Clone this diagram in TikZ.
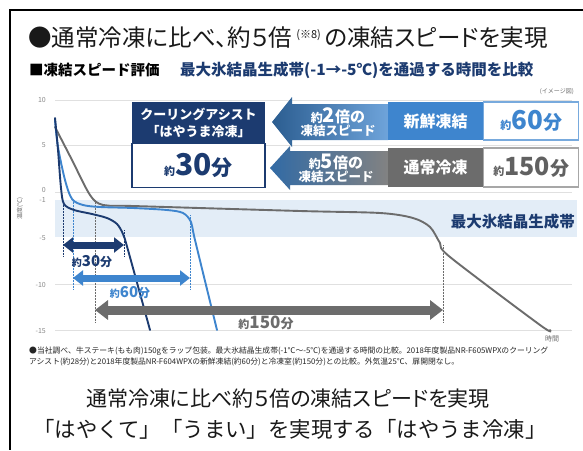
\documentclass[tikz,border=0pt]{standalone}
\usepackage{fontspec}
\setmainfont{Noto Sans CJK JP}
\newfontfamily\jp[RawFeature=+palt]{Noto Sans CJK JP}
\usetikzlibrary{arrows.meta,positioning}
\definecolor{navy}{HTML}{1C3B70}
\definecolor{fblue}{HTML}{3E85CE}
\definecolor{fgray}{HTML}{6C6C6C}
\definecolor{bandc}{HTML}{E3EDF7}
\definecolor{gridc}{HTML}{E0E0E0}
\newcommand\fs[2]{{\fontsize{#1}{#1}\selectfont #2}}
\newcommand\yakumin[4]{\fs{#1}{約}\fs{#2}{#4}\fs{#3}{分}}
\begin{document}
\begin{tikzpicture}[x=1pt,y=-1pt,
    tick/.style={anchor=east,text=fgray!80,font=\fontsize{7}{8}\selectfont,inner sep=1pt},
    gridline/.style={gridc,line width=0.8pt},
    guide/.style={densely dotted,line width=0.5pt},
    tcurve/.style={line width=1.9pt,line cap=round},
    span/.style={line width=7pt,{Triangle[width=15pt,length=10pt]}-{Triangle[width=15pt,length=10pt]}},
    widespan/.style={line width=9pt,{Triangle[width=19pt,length=13pt]}-{Triangle[width=19pt,length=13pt]}},
    headbox/.style={minimum width=95pt,minimum height=38pt,text=white,font=\bfseries\fontsize{16}{16}\selectfont,inner sep=0},
    timebox/.style={fill=white,line width=1.2pt,minimum width=95pt,minimum height=38pt,font=\bfseries,inner sep=0},
    speedlbl/.style={text=white,font=\bfseries,align=center,inner sep=0}]
\useasboundingbox (0,0) rectangle (583,450);
\fill[white] (0,0) rectangle (583,450);
% frame
\draw[line width=1.6pt] (583,10) -- (10,10) -- (10,450);

\node[anchor=west,inner sep=0,text=black!90] (title) at (28,38)
  {\jp\fontsize{23.5}{23.5}\selectfont ●通常冷凍に比べ、約５倍\,\raisebox{8pt}{\fontsize{11}{11}\selectfont (※8)}\,の凍結スピードを実現};
\node[anchor=west,inner sep=0,font=\bfseries\fontsize{14.5}{14.5}\selectfont] (subA) at (29,70) {■凍結スピード評価};
\node[anchor=west,inner sep=0,text=navy,font=\bfseries\fontsize{15.5}{15.5}\selectfont] (subB) at (180,70) {最大氷結晶生成帯(-1→-5℃)を通過する時間を比較};
\node[anchor=east,inner sep=0,text=fgray,font=\fontsize{6}{6}\selectfont] (imgNote) at (574,92) {(イメージ図)};

% chart
\fill[bandc] (55,200) rectangle (577,237);
\foreach \t/\yy in {10/100,5/145,0/192,-10/284,-15/330}
  \draw[gridline] (55,\yy) -- (572,\yy);
\foreach \t/\yy in {10/100,5/145,0/190,-1/200,-5/238,-10/285,-15/331}
  \node[tick] (tk\t) at (47,\yy) {\t};
\node[rotate=90,text=fgray,font=\fontsize{6}{6}\selectfont,inner sep=0] (yTitle) at (20,208) {温度(℃)};
\node[anchor=east,inner sep=0,text=navy,font=\bfseries\fontsize{15.5}{15.5}\selectfont] (bandLbl) at (575,222) {最大氷結晶生成帯};
\node[text=fgray,font=\fontsize{7}{7}\selectfont,inner sep=0] (timeLbl) at (552,339) {時間};

\draw[guide,navy] (63,203) -- (63,256) (124,230) -- (124,256);
\draw[guide,fblue] (73,200) -- (73,289) (190,215) -- (190,289);
\draw[guide,fgray] (95,200) -- (95,322) (443,245) -- (443,322);

\draw[tcurve,fgray] plot[smooth,tension=0.5] coordinates {(55,127) (72,160) (90,195) (103,205) (133,206) (300,211) (380,213) (413,218) (430,227) (440,243) (450,257) (540,325) (550,330)};
\draw[tcurve,fblue] plot[smooth,tension=0.5] coordinates {(55,120) (58,147) (65,180) (72,199) (83,205) (100,207) (133,208) (167,210) (183,213) (191,222) (195,240) (217,330)};
\draw[tcurve,navy] plot[smooth,tension=0.5] coordinates {(55,118) (58,150) (61,188) (64,204) (74,210) (92,214) (107,218) (117,224) (123,234) (128,250) (150,330)};

\coordinate (s30a) at (63,245);  \coordinate (s30b) at (124,245);
\coordinate (s60a) at (73,278);  \coordinate (s60b) at (190,278);
\coordinate (s150a) at (95,310); \coordinate (s150b) at (443,310);
\draw[span,navy] (s30a) -- (s30b);
\draw[span,fblue] (s60a) -- (s60b);
\draw[widespan,fgray] (s150a) -- (s150b);
\node[text=navy,font=\bfseries,inner sep=1pt] (lbl30) at (92,262) {\yakumin{10}{15}{12}{30}};
\node[text=fblue,font=\bfseries,inner sep=1pt] (lbl60) at (130,293) {\yakumin{10}{15}{12}{60}};
\node[text=fgray,font=\bfseries,inner sep=1pt] (lbl150) at (266,323) {\yakumin{11}{17}{13}{150}};

% comparison boxes
\node[fill=navy,minimum width=133pt,minimum height=41pt,text=white,align=center,
  font=\bfseries\fontsize{13}{17}\selectfont,inner sep=0] (assistHead) at (198.5,122.5) {クーリングアシスト\\「はやうま冷凍」};
\node[timebox,draw=navy,minimum width=133pt,minimum height=44pt,text=navy,below=0pt of assistHead] (assistTime) {\yakumin{11}{30}{21}{30}};

\shade[left color=fblue!70!black,right color=fblue!75!white]
  (388,104) -- (292,104) -- (292,97) -- (272,122) -- (292,147) -- (292,140) -- (388,140) -- cycle;
\shade[left color=fblue!80!black,middle color=fblue!35!white,right color=fgray!85]
  (388,151) -- (290,151) -- (290,146) -- (270,168) -- (290,190) -- (290,185) -- (388,185) -- cycle;
\node[speedlbl,anchor=south] (speed2) at (338,124) {\fs{12}{約}\fs{20}{2}\fs{15}{倍の}};
\node[speedlbl,anchor=north] (speed2b) at (338,125) {\fs{12.5}{凍結スピード}};
\node[speedlbl,anchor=south] (speed5) at (336,170) {\fs{12}{約}\fs{20}{5}\fs{15}{倍の}};
\node[speedlbl,anchor=north] (speed5b) at (336,171) {\fs{12.5}{凍結スピード}};

\node[headbox,fill=fblue] (freshHead) at (435.5,121) {新鮮凍結};
\node[timebox,draw=fblue!70,text=fblue,right=0pt of freshHead] (freshTime) {\yakumin{11}{26}{19}{60}};
\node[headbox,fill=fgray,minimum height=39pt] (normalHead) at (435.5,167.5) {通常冷凍};
\node[timebox,draw=fgray!60,text=fgray!90!black,minimum height=39pt,right=0pt of normalHead] (normalTime) {\yakumin{11}{25}{19}{150}};

% notes
\node[anchor=north west,align=left,inner sep=0,text=black!85,font=\fontsize{7.8}{10.5}\selectfont] (note) at (29,347)
  {●当社調べ、牛ステーキ(もも肉)150gをラップ包装。最大氷結晶生成帯(-1℃～-5℃)を通過する時間の比較。2018年度製品NR-F605WPXのクーリング\\
   アシスト(約28分)と2018年度製品NR-F604WPXの新鮮凍結(約60分)と冷凍室(約150分)との比較。外気温25℃、扉開閉なし。};
\node[inner sep=0,text=black!90,font=\jp\fontsize{21}{21}\selectfont] (sumA) at (288,399) {通常冷凍に比べ約５倍の凍結スピードを実現};
\node[inner sep=0,text=black!90,font=\fontsize{21.4}{21.4}\selectfont] (sumB) at (290,429) {「はやくて」「うまい」を実現する「はやうま冷凍」};
\end{tikzpicture}
\end{document}
